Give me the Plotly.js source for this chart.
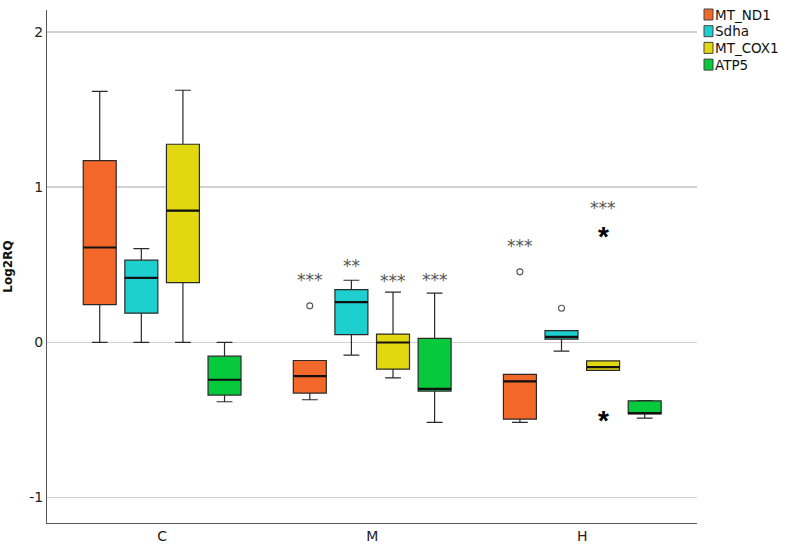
<!DOCTYPE html>
<html>
<head>
<meta charset="utf-8">
<script src="https://cdn.plot.ly/plotly-3.0.1.min.js"></script>
<style>
  html, body { margin: 0; padding: 0; background: #ffffff; }
  #chart { width: 787px; height: 551px; }
</style>
</head>
<body>
<div id="chart"></div>
<script>
// ---- data ----
var categories = ['C', 'M', 'H'];
var seriesNames = ['MT_ND1', 'Sdha', 'MT_COX1', 'ATP5'];
var seriesColors = ['#f2682b', '#1ecfd0', '#e2d80f', '#06c93b'];

var nd1Lower  = [0.000, -0.370, -0.516];
var nd1Q1     = [0.243, -0.327, -0.495];
var nd1Median = [0.611, -0.218, -0.252];
var nd1Q3     = [1.171, -0.117, -0.207];
var nd1Upper  = [1.617, -0.117, -0.207];

var sdhaLower  = [0.000, -0.083, -0.057];
var sdhaQ1     = [0.188,  0.050,  0.021];
var sdhaMedian = [0.415,  0.259,  0.035];
var sdhaQ3     = [0.529,  0.340,  0.075];
var sdhaUpper  = [0.604,  0.400,  0.075];

var cox1Lower  = [0.000, -0.229, -0.181];
var cox1Q1     = [0.385, -0.173, -0.181];
var cox1Median = [0.849, -0.001, -0.160];
var cox1Q3     = [1.276,  0.053, -0.119];
var cox1Upper  = [1.624,  0.323, -0.119];

var atp5Lower  = [-0.383, -0.516, -0.488];
var atp5Q1     = [-0.340, -0.314, -0.461];
var atp5Median = [-0.241, -0.300, -0.456];
var atp5Q3     = [-0.089,  0.025, -0.377];
var atp5Upper  = [ 0.000,  0.317, -0.375];

// outliers (circles) and extreme values (stars)
var outlierSeries = [0, 0, 1];
var outlierCats   = [1, 2, 2];
var outlierValues = [0.235, 0.454, 0.220];

var extremeSeries = [2, 2];
var extremeCats   = [2, 2];
var extremeValues = [0.720, -0.463];

// significance labels
var sigSeries = [0, 1, 2, 3, 0, 2];
var sigCats   = [1, 1, 1, 1, 2, 2];
var sigLabels = ['***', '**', '***', '***', '***', '***'];
var sigValues = [0.430, 0.516, 0.424, 0.430, 0.649, 0.892];

// ---- layout helpers ----
var lowers  = [nd1Lower, sdhaLower, cox1Lower, atp5Lower];
var q1s     = [nd1Q1, sdhaQ1, cox1Q1, atp5Q1];
var medians = [nd1Median, sdhaMedian, cox1Median, atp5Median];
var q3s     = [nd1Q3, sdhaQ3, cox1Q3, atp5Q3];
var uppers  = [nd1Upper, sdhaUpper, cox1Upper, atp5Upper];

var slot = 0.198, boxW = 0.157;
function pos(s, c) { return c + (s - 1.5) * slot; }
function catPositions(s) { return categories.map(function (_, c) { return pos(s, c); }); }

var FONT = 'DejaVu Sans, sans-serif';
var traces = [];

seriesNames.forEach(function (name, s) {
  traces.push({
    type: 'box', name: name,
    x: catPositions(s),
    q1: q1s[s], median: medians[s], q3: q3s[s],
    lowerfence: lowers[s], upperfence: uppers[s],
    width: boxW, whiskerwidth: 0.48,
    fillcolor: seriesColors[s],
    line: { color: '#2a2a2a', width: 1.2 },
    boxpoints: false, showlegend: false, hoverinfo: 'skip'
  });
});

// thicker median lines
seriesNames.forEach(function (name, s) {
  traces.push({
    type: 'box', name: name + ' median',
    x: catPositions(s),
    q1: medians[s], median: medians[s], q3: medians[s],
    lowerfence: medians[s], upperfence: medians[s],
    width: boxW, whiskerwidth: 0,
    fillcolor: 'rgba(0,0,0,0)',
    line: { color: '#111111', width: 2.2 },
    boxpoints: false, showlegend: false, hoverinfo: 'skip'
  });
});

traces.push({
  type: 'scatter', mode: 'markers',
  x: outlierValues.map(function (_, i) { return pos(outlierSeries[i], outlierCats[i]); }),
  y: outlierValues,
  marker: { symbol: 'circle-open', size: 6, color: '#555555', line: { width: 1.1 } },
  showlegend: false, hoverinfo: 'skip'
});

var annotations = sigLabels.map(function (t, i) {
  return {
    x: pos(sigSeries[i], sigCats[i]), y: sigValues[i], xref: 'x', yref: 'y',
    text: t, showarrow: false, yshift: -4,
    font: { family: FONT, size: 17, color: '#555555' }
  };
});

// extreme-value stars
extremeValues.forEach(function (v, i) {
  annotations.push({
    x: pos(extremeSeries[i], extremeCats[i]), y: v, xref: 'x', yref: 'y',
    text: '<b>*</b>', showarrow: false, yshift: -6,
    font: { family: 'Liberation Sans, sans-serif', size: 28, color: '#000000' }
  });
});

// custom legend (squares + labels)
var shapes = [];
seriesNames.forEach(function (name, s) {
  var yTop = 9 + s * 16.7;
  shapes.push({
    type: 'rect', xref: 'paper', yref: 'paper',
    x0: 1 + 7 / 650, x1: 1 + 16 / 650,
    y0: 1 - (yTop + 11 - 10) / 513, y1: 1 - (yTop - 10) / 513,
    fillcolor: seriesColors[s], line: { color: '#444444', width: 1 }
  });
  annotations.push({
    xref: 'paper', yref: 'paper', x: 1 + 16 / 650, y: 1 - (yTop + 5.5 - 10) / 513,
    xanchor: 'left', yanchor: 'middle', text: name, showarrow: false,
    font: { family: FONT, size: 13.5, color: '#111111' }
  });
});

var layout = {
  width: 787, height: 551,
  margin: { l: 47, r: 90, t: 10, b: 28 },
  paper_bgcolor: '#ffffff', plot_bgcolor: '#ffffff',
  showlegend: false,
  boxmode: 'overlay',
  xaxis: {
    range: [-0.548, 2.546], tickvals: [0, 1, 2], ticktext: categories,
    showgrid: false, zeroline: false, showline: true, linecolor: '#555555', linewidth: 1,
    ticks: '', tickfont: { family: FONT, size: 14, color: '#222222' }
  },
  yaxis: {
    range: [-1.164, 2.141], tickvals: [-1, 0, 1, 2], ticktext: ['-1', '0', '1', '2'],
    showgrid: true, gridcolor: '#d2d2d2', gridwidth: 1.3, zeroline: false,
    showline: true, linecolor: '#555555', linewidth: 1, ticks: '',
    tickfont: { family: FONT, size: 14, color: '#222222' },
    title: { text: '<b>Log2RQ</b>', font: { family: FONT, size: 12, color: '#111111' }, standoff: 14 }
  },
  annotations: annotations,
  shapes: shapes
};

Plotly.newPlot('chart', traces, layout, { displayModeBar: false, staticPlot: true });
</script>
</body>
</html>
